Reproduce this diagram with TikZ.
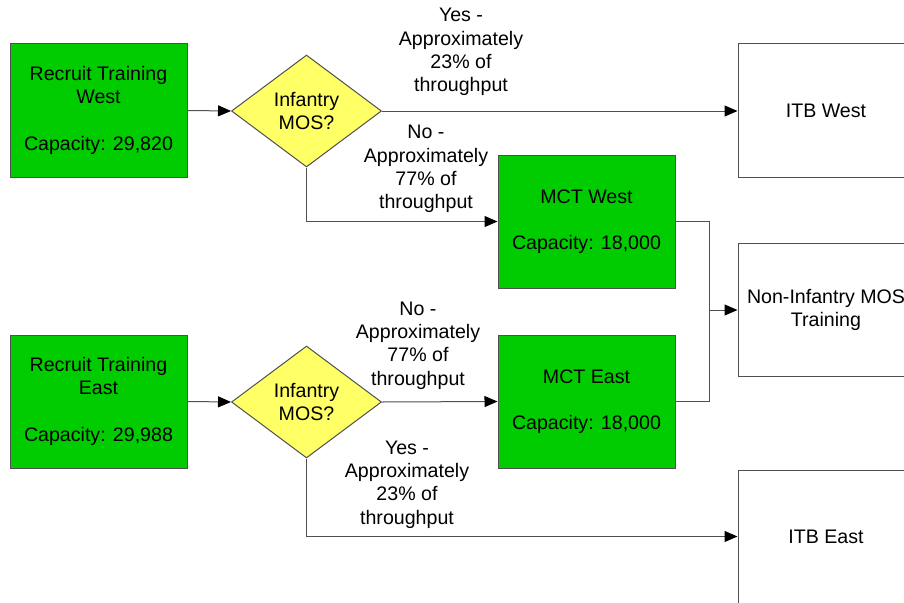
\documentclass[tikz,border=0pt]{standalone}
\usepackage{fontspec}
\setmainfont{Liberation Sans}
\usetikzlibrary{shapes.geometric,arrows.meta}
\definecolor{boxgreen}{RGB}{0,204,0}
\definecolor{diayellow}{RGB}{255,255,102}
\definecolor{linegray}{RGB}{80,80,80}
\tikzset{
  every node/.style={font=\fontsize{19.6}{23.2}\selectfont, align=center, inner sep=0pt},
  greenbox/.style={draw=linegray, line width=1pt, fill=boxgreen, minimum width=177pt, minimum height=133pt},
  whitebox/.style={draw=linegray, line width=1pt, fill=white, minimum width=176pt, minimum height=133pt},
  decision/.style={diamond, draw=linegray, line width=1pt, fill=diayellow, minimum width=150pt, minimum height=112pt, aspect=1.34},
  flow/.style={draw=linegray, line width=1pt, -{Triangle[length=13pt,width=11pt,color=black,fill=black]}},
  plain/.style={draw=linegray, line width=1pt},
  lbl/.style={}
}
\begin{document}
\begin{tikzpicture}[x=1pt,y=-1pt]
\useasboundingbox (0,0) rectangle (904,602);
\fill[white] (0,0) rectangle (904,602);
\clip (0,0) rectangle (904,602);

\node[greenbox] (rtw) at (98.5,110.5) {Recruit Training\\West\\ \\Capacity: 29,820};
\node[decision] (dw) at (306.5,111) {Infantry\\MOS?};
\node[whitebox] (itbw) at (826,110.5) {ITB West};
\node[greenbox] (mctw) at (586.5,221.5) {MCT West\\ \\Capacity: 18,000};
\node[whitebox] (nonin) at (826,310) {Non-Infantry MOS\\Training};
\node[greenbox] (rte) at (98.5,401.5) {Recruit Training\\East\\ \\Capacity: 29,988};
\node[decision] (de) at (306.5,402) {Infantry\\MOS?};
\node[greenbox] (mcte) at (586.5,401.5) {MCT East\\ \\Capacity: 18,000};
\node[whitebox] (itbe) at (826,536.5) {ITB East};

\node[lbl] (lyw) at (461,52) {Yes -\\Approximately\\23\% of\\throughput};
\node[lbl] (lnw) at (426,169) {No -\\Approximately\\77\% of\\throughput};
\node[lbl] (lne) at (418,345.5) {No -\\Approximately\\77\% of\\throughput};
\node[lbl] (lye) at (407,484.5) {Yes -\\Approximately\\23\% of\\throughput};

\coordinate (merge) at (709,310);

\draw[flow] (rtw.east) -- (dw.west);
\draw[flow] (dw.east) -- (dw.east -| itbw.west);
\draw[flow] (dw.south) |- (mctw.west);
\draw[flow] (rte.east) -- (de.west);
\draw[flow] (de.east) -- (mcte.west);
\draw[flow] (de.south) |- (itbe.west);
\draw[plain] (mctw.east) -| (merge);
\draw[plain] (mcte.east) -| (merge);
\draw[flow] (merge) -- (nonin.west);
\end{tikzpicture}
\end{document}
